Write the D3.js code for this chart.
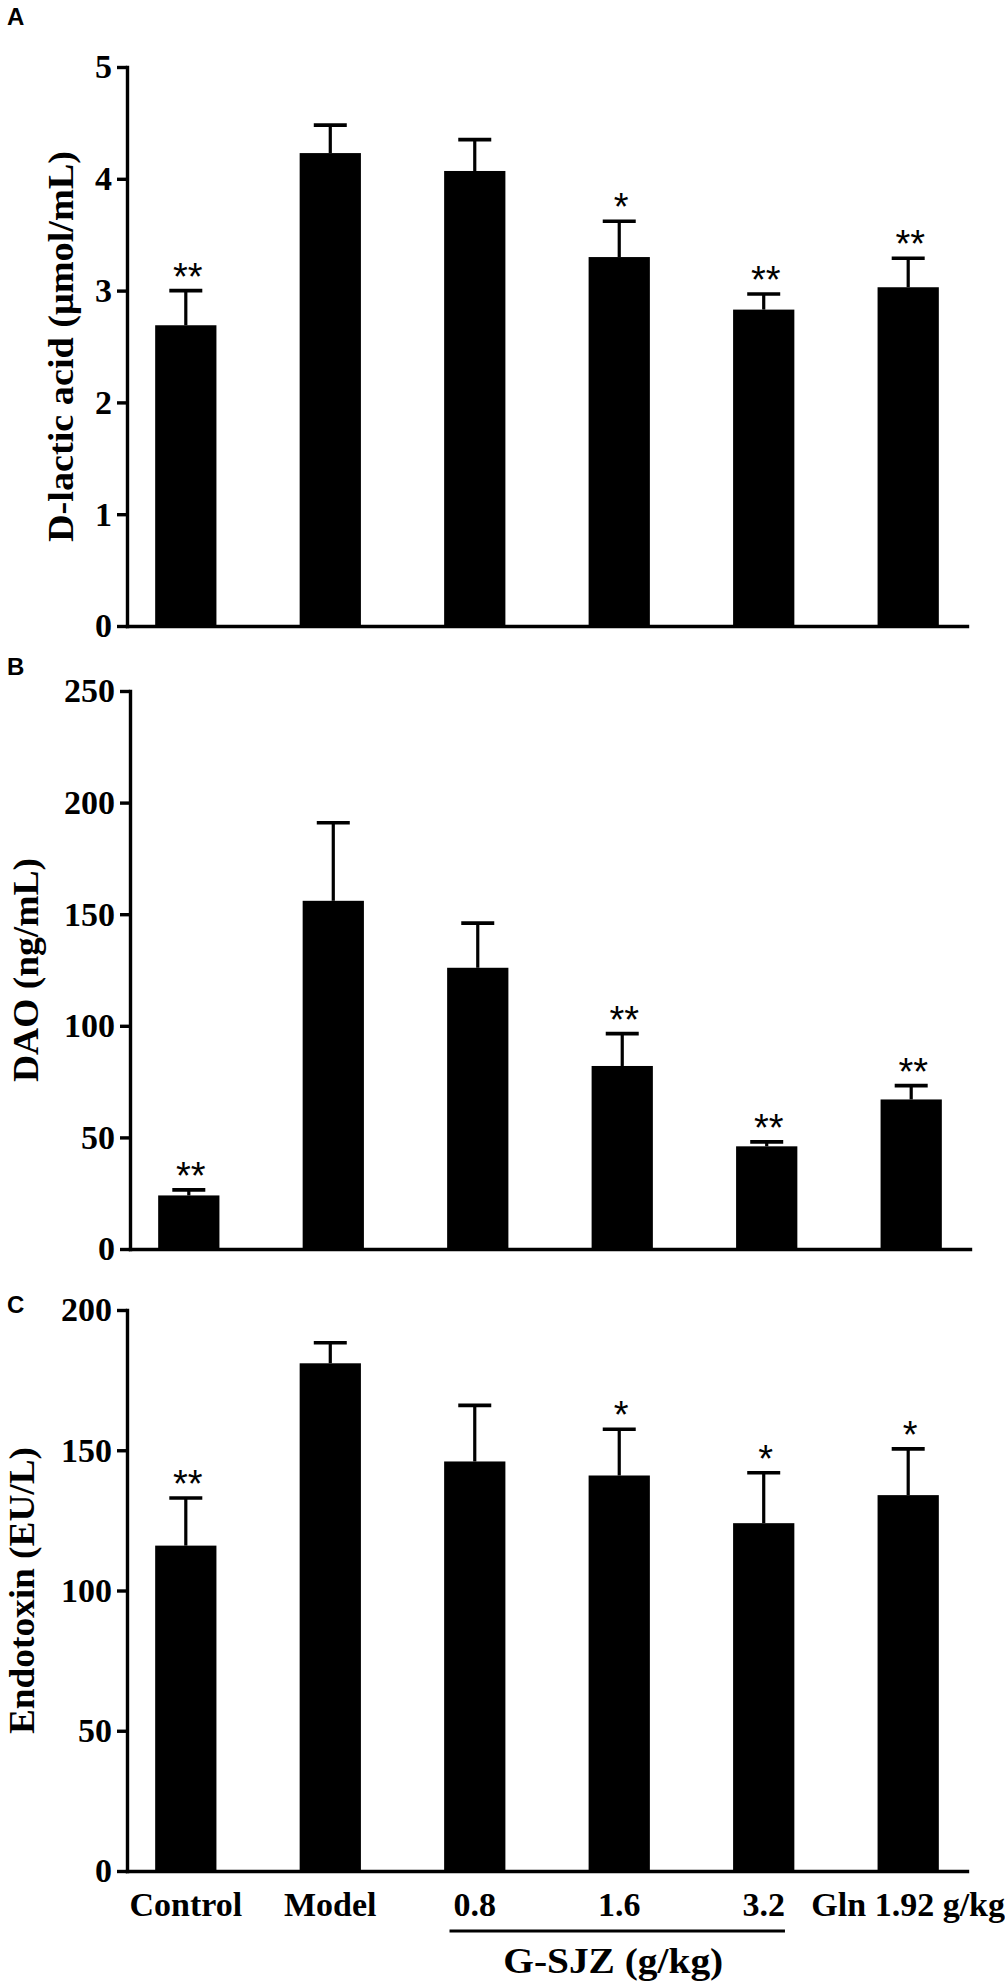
<!DOCTYPE html>
<html>
<head>
<meta charset="utf-8">
<script src="https://cdn.jsdelivr.net/npm/d3@7"></script>
<style>
  html, body { margin: 0; padding: 0; background: #fff; }
  svg { display: block; }
</style>
</head>
<body>
<svg id="chart" width="1005" height="1987"></svg>
<script>
// ---------- data ----------
const categories = ["Control", "Model", "0.8", "1.6", "3.2", "Gln 1.92 g/kg"];

const dLacticMean = [2.69, 4.23, 4.07, 3.30, 2.83, 3.03];
const dLacticErr  = [0.31, 0.25, 0.28, 0.32, 0.14, 0.26];
const dLacticSig  = ["**", "", "", "*", "**", "**"];
const dLacticTicks = [0, 1, 2, 3, 4, 5];

const daoMean = [24, 156, 126, 82, 46, 67];
const daoErr  = [2.5, 35, 20, 14.5, 2, 6.2];
const daoSig  = ["**", "", "", "**", "**", "**"];
const daoTicks = [0, 50, 100, 150, 200, 250];

const endoMean = [116, 181, 146, 141, 124, 134];
const endoErr  = [17, 7.3, 20, 16.5, 18, 16.5];
const endoSig  = ["**", "", "", "*", "*", "*"];
const endoTicks = [0, 50, 100, 150, 200];

const panelLetters = ["A", "B", "C"];
const yTitles = ["D-lactic acid (\u03bcmol/mL)", "DAO (ng/mL)", "Endotoxin (EU/L)"];
const groupLabel = "G-SJZ (g/kg)";
const groupMembers = ["0.8", "1.6", "3.2"];

// ---------- layout ----------
const serif = "'Liberation Serif','Times New Roman',serif";
const sans = "'Liberation Sans',Arial,sans-serif";
const svg = d3.select("#chart");

const panels = [
  { letter: panelLetters[0], title: yTitles[0], mean: dLacticMean, err: dLacticErr, sig: dLacticSig, ticks: dLacticTicks,
    domain: [0, 5], y0: 626, y1: 67, dx: 0, letterY: 25, titleX: 73, titleLen: 391 },
  { letter: panelLetters[1], title: yTitles[1], mean: daoMean, err: daoErr, sig: daoSig, ticks: daoTicks,
    domain: [0, 250], y0: 1249, y1: 691, dx: 3, letterY: 675, titleX: 38, titleLen: 224 },
  { letter: panelLetters[2], title: yTitles[2], mean: endoMean, err: endoErr, sig: endoSig, ticks: endoTicks,
    domain: [0, 200], y0: 1871, y1: 1310, dx: 0, letterY: 1313, titleX: 34, titleLen: 287, xLabels: true }
];

const axisX0 = 127, axisX1 = 967;

panels.forEach(p => {
  const g = svg.append("g").attr("transform", `translate(${p.dx},0)`);
  const x = d3.scaleBand().domain(categories).range([axisX0, axisX1])
    .paddingInner(0.576).paddingOuter(0.195);
  const y = d3.scaleLinear().domain(p.domain).range([p.y0, p.y1]);
  const bw = x.bandwidth();

  // panel letter
  svg.append("text").attr("x", 7).attr("y", p.letterY)
    .attr("font-family", sans).attr("font-weight", "bold").attr("font-size", 24)
    .text(p.letter);

  // bars
  g.selectAll("rect.bar").data(categories).enter().append("rect")
    .attr("class", "bar")
    .attr("x", d => x(d)).attr("width", bw)
    .attr("y", (d, i) => y(p.mean[i]))
    .attr("height", (d, i) => y(0) - y(p.mean[i]))
    .attr("fill", "#000");

  // error bars (upper only)
  const eb = g.selectAll("g.err").data(categories).enter().append("g").attr("class", "err");
  eb.append("line")
    .attr("x1", d => x(d) + bw / 2).attr("x2", d => x(d) + bw / 2)
    .attr("y1", (d, i) => y(p.mean[i])).attr("y2", (d, i) => y(p.mean[i] + p.err[i]))
    .attr("stroke", "#000").attr("stroke-width", 3.2);
  eb.append("line")
    .attr("x1", d => x(d) + bw / 2 - 16.5).attr("x2", d => x(d) + bw / 2 + 16.5)
    .attr("y1", (d, i) => y(p.mean[i] + p.err[i])).attr("y2", (d, i) => y(p.mean[i] + p.err[i]))
    .attr("stroke", "#000").attr("stroke-width", 3.6);

  // significance stars
  g.selectAll("text.sig").data(categories).enter().append("text")
    .attr("class", "sig")
    .attr("x", d => x(d) + bw / 2 + 2)
    .attr("y", (d, i) => y(p.mean[i] + p.err[i]) - 1)
    .attr("text-anchor", "middle")
    .attr("font-family", sans).attr("font-size", 38)
    .text((d, i) => p.sig[i]);

  // y axis
  const yAxis = d3.axisLeft(y).tickValues(p.ticks).tickSize(10).tickSizeOuter(0).tickPadding(5)
    .tickFormat(d3.format("d"));
  const ya = g.append("g").attr("transform", `translate(${axisX0},0)`).call(yAxis);
  ya.select(".domain").attr("stroke-width", 3.4).attr("stroke-linecap", "square");
  ya.selectAll(".tick line").attr("stroke-width", 3.4);
  ya.selectAll(".tick text")
    .attr("font-family", serif).attr("font-weight", "bold").attr("font-size", 34)
    .attr("fill", "#000");

  // x axis
  const xAxis = d3.axisBottom(x).tickSize(0).tickSizeOuter(0).tickPadding(21);
  const xa = g.append("g").attr("transform", `translate(0,${y(0)})`).call(xAxis);
  xa.select(".domain").attr("stroke-width", 3.4).attr("stroke-linecap", "square");
  if (p.xLabels) {
    xa.selectAll(".tick text")
      .attr("font-family", serif).attr("font-weight", "bold").attr("font-size", 34)
      .attr("fill", "#000");
  } else {
    xa.selectAll(".tick text").remove();
  }

  // y title
  svg.append("text")
    .attr("transform", `translate(${p.titleX},${(p.y0 + p.y1) / 2}) rotate(-90)`)
    .attr("text-anchor", "middle")
    .attr("font-family", serif).attr("font-weight", "bold").attr("font-size", 36)
    .attr("textLength", p.titleLen).attr("lengthAdjust", "spacingAndGlyphs")
    .text(p.title);

  // group underline + label
  if (p.xLabels) {
    const texts = xa.selectAll(".tick").filter(d => groupMembers.includes(d)).select("text").nodes();
    const first = groupMembers[0], last = groupMembers[groupMembers.length - 1];
    const wFirst = texts[0].getComputedTextLength();
    const wLast = texts[texts.length - 1].getComputedTextLength();
    const lx1 = x(first) + bw / 2 - wFirst / 2 - 4;
    const lx2 = x(last) + bw / 2 + wLast / 2;
    svg.append("line")
      .attr("x1", lx1).attr("x2", lx2)
      .attr("y1", y(0) + 60).attr("y2", y(0) + 60)
      .attr("stroke", "#000").attr("stroke-width", 3);
    svg.append("text")
      .attr("x", (lx1 + lx2) / 2 - 4).attr("y", y(0) + 102)
      .attr("text-anchor", "middle")
      .attr("font-family", serif).attr("font-weight", "bold").attr("font-size", 36)
      .attr("textLength", 220).attr("lengthAdjust", "spacingAndGlyphs")
      .text(groupLabel);
  }
});
</script>
</body>
</html>
